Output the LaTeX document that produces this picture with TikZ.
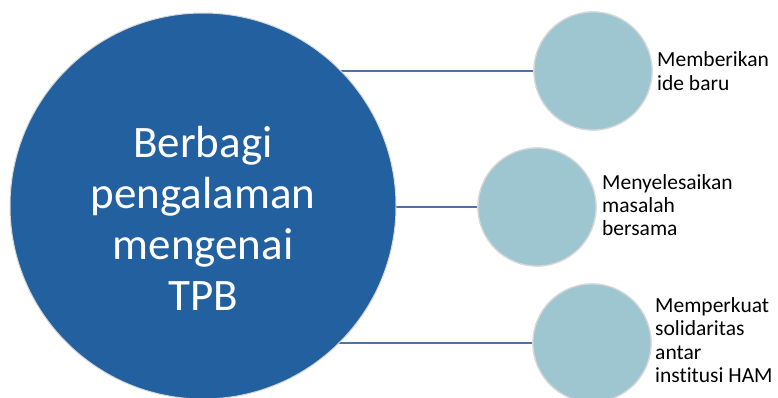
\documentclass[tikz,border=0pt]{standalone}
\usepackage{fontspec}
\setmainfont[Ligatures=NoCommon]{Carlito}
\definecolor{bigblue}{RGB}{34,96,160}
\definecolor{smallteal}{RGB}{157,198,208}
\definecolor{linkblue}{RGB}{74,116,168}
\definecolor{rimgray}{RGB}{215,215,215}
\tikzset{
  x=1pt, y=-1pt,
  bigcirc/.style={circle, fill=bigblue, draw=rimgray, line width=1pt, minimum size=386pt, inner sep=0pt},
  smallcirc/.style={circle, fill=smallteal, draw=rimgray, line width=1.2pt, minimum size=118pt, inner sep=0pt},
  link/.style={draw=linkblue, line width=2pt},
  lbl/.style={anchor=west, align=left, inner sep=0pt, font=\fontsize{21.5}{23.3}\selectfont, text=black}
}
\begin{document}
\begin{tikzpicture}
\useasboundingbox (0,0) rectangle (778,398);
\fill[white] (0,0) rectangle (778,398);
\coordinate (bc) at (203,206);
\node[smallcirc] (c1) at (593,71) {};
\node[smallcirc] (c2) at (537,207) {};
\node[smallcirc] (c3) at (592,343) {};
\path[link] (bc |- c1) -- (c1);
\path[link] (bc |- c2) -- (c2);
\path[link] (bc |- c3) -- (c3);
\node[smallcirc] at (c1) {};
\node[smallcirc] at (c2) {};
\node[smallcirc] at (c3) {};
\node[bigcirc] (big) at (bc) {};
\node[align=center, text=white, inner sep=0pt, font=\fontsize{45}{51}\selectfont] (bt) at (203,218) {Berbagi\\pengalaman\\mengenai\\TPB};
\node[lbl] (t1) at (657,71) {Memberikan\\ide baru};
\node[lbl] (t2) at (602,205) {Menyelesaikan\\masalah\\bersama};
\node[lbl] (t3) at (655,340) {Memperkuat\\solidaritas\\antar\\institusi HAM};
\end{tikzpicture}
\end{document}
